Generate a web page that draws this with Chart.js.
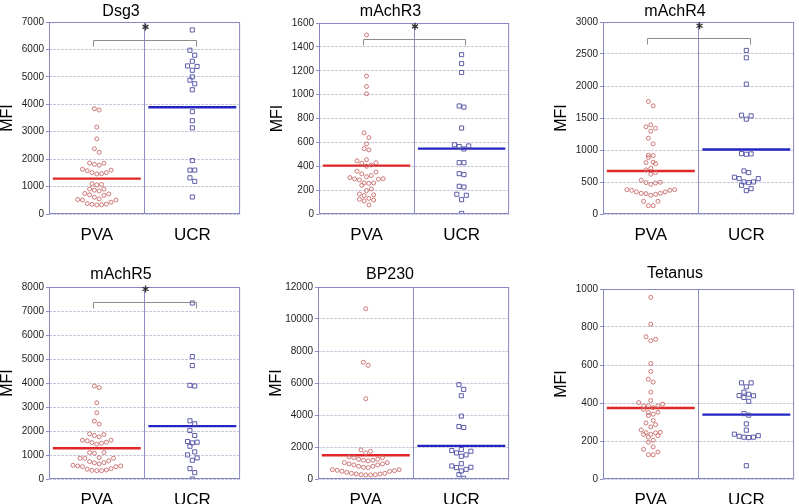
<!DOCTYPE html>
<html>
<head>
<meta charset="utf-8">
<script src="https://cdn.jsdelivr.net/npm/chart.js@4.4.1/dist/chart.umd.min.js"></script>
<style>
  html, body { margin: 0; padding: 0; background: #fff; overflow: hidden; }
  body { width: 799px; height: 504px; position: relative; }
  canvas { position: absolute; }
</style>
</head>
<body>
<script>
// groups on the x axis
var categories = ['PVA', 'UCR'];

// panel titles and y axis ranges
var titles = ['Dsg3', 'mAchR3', 'mAchR4', 'mAchR5', 'BP230', 'Tetanus'];
var yMax = [7000, 1600, 3000, 8000, 12000, 1000];
var yStep = [1000, 200, 500, 1000, 2000, 200];

// MFI values per subject
var dsg3PVA = [3790, 3840, 3170, 2740, 2380, 2250, 1850, 1780, 1810, 1860, 1630, 1580, 1510, 1470, 1460, 1510, 1600,
  1100, 1080, 1060, 910, 870, 840, 910, 700, 680, 550, 610, 730, 750, 510, 430, 380, 340, 330, 350, 360, 510, 530];
var dsg3UCR = [6710, 5970, 5790, 5570, 5380, 5400, 5240, 5000, 4880, 4750, 4530, 3730, 3400, 3140, 1950, 1600, 1600,
  1320, 1190, 620];

var machr3PVA = [1500, 1155, 1068, 1007, 680, 640, 587, 548, 537, 455, 445, 430, 425, 410, 400, 358, 352, 336, 322,
  313, 305, 296, 294, 291, 285, 260, 260, 257, 240, 210, 196, 168, 160, 154, 131, 123, 117, 109, 76];
var machr3UCR = [1335, 1260, 1185, 905, 895, 720, 570, 545, 565, 580, 430, 430, 330, 338, 232, 226, 157, 165, 120, 5];

var machr4PVA = [1758, 1690, 1393, 1341, 1362, 1294, 1184, 1096, 918, 913, 882, 803, 809, 788, 715, 689, 647, 621,
  527, 490, 485, 496, 464, 381, 370, 344, 323, 318, 292, 308, 323, 344, 370, 381, 198, 130, 130, 198];
var machr4UCR = [2556, 2441, 2029, 1534, 1482, 1544, 939, 934, 944, 647, 673, 574, 553, 501, 490, 501, 553, 449, 396, 365];

var machr5PVA = [3875, 3806, 3178, 2760, 2286, 2411, 1882, 1812, 1756, 1854, 1617, 1533, 1491, 1450, 1519, 1589, 1617,
  1101, 1073, 1101, 864, 725, 669, 627, 683, 753, 892, 864, 864, 543, 515, 432, 376, 348, 348, 362, 404, 515, 543, 571];
var machr5UCR = [7332, 5102, 4726, 3903, 3875, 2426, 2300, 2021, 1812, 1533, 1505, 1561, 1366, 1129, 1004, 878, 781,
  432, 265, 0];

var bp230PVA = [10640, 7295, 7107, 5017, 1735, 1630, 1818, 1338, 1233, 1170, 1129, 1170, 1233, 1338, 1380, 1024, 941,
  878, 794, 732, 711, 794, 878, 941, 1024, 585, 522, 481, 355, 313, 272, 251, 251, 272, 313, 355, 418, 481, 543, 585];
var bp230UCR = [5894, 5601, 5204, 3929, 3281, 3219, 1839, 1777, 1735, 1630, 1505, 1421, 961, 815, 732, 606, 711, 502,
  272, 42];

var tetanusPVA = [956, 815, 735, 728, 749, 608, 566, 510, 525, 457, 413, 402, 385, 385, 385, 394, 366, 376, 350, 334,
  341, 351, 308, 295, 286, 274, 258, 244, 235, 228, 234, 243, 246, 221, 204, 193, 169, 156, 142, 128, 127];
var tetanusUCR = [506, 506, 485, 457, 438, 446, 429, 439, 409, 344, 336, 290, 257, 236, 225, 220, 218, 220, 228, 70];

// group medians (horizontal bars)
var medianPVA = [1290, 405, 673, 1282, 1484, 374];
var medianUCR = [3890, 548, 1007, 2202, 2069, 339];

// significance bracket level and star level (null = not significant)
var bracketY = [6360, 1465, 2744, 7360, null, null];
var starY = [6820, 1572, 2942, 7918, null, null];

var pvaSets = [dsg3PVA, machr3PVA, machr4PVA, machr5PVA, bp230PVA, tetanusPVA];
var ucrSets = [dsg3UCR, machr3UCR, machr4UCR, machr5UCR, bp230UCR, tetanusUCR];

// plot area of every panel on the page
var panels = [
  { l: 49, t: 22, r: 242, b: 214, top: 0, titleMid: 12 },
  { l: 319, t: 23, r: 511, b: 214, top: 0, titleMid: 12 },
  { l: 603, t: 22, r: 796, b: 214, top: 0, titleMid: 12 },
  { l: 49, t: 287, r: 242, b: 479, top: 265, titleMid: 275 },
  { l: 318, t: 287, r: 511, b: 479, top: 265, titleMid: 275 },
  { l: 603, t: 289, r: 796, b: 479, top: 265, titleMid: 274 }
];

var FONT = "'Liberation Sans', Arial, sans-serif";

// spread points of a group sideways in rows, like a bee swarm plot
function swarm(values, center, max) {
  var rowH = max * 5.8 / 192;
  var colW = 0.05;
  var sorted = values.slice().sort(function(a, b) { return a - b; });
  var rows = [];
  sorted.forEach(function(v) {
    var row = rows[rows.length - 1];
    if (row && v - row[0] <= rowH) row.push(v);
    else rows.push([v]);
  });
  var pts = [];
  rows.forEach(function(row) {
    var n = row.length;
    var slots = [];
    for (var k = 0; k < n; k++) slots.push(k - (n - 1) / 2);
    slots.sort(function(a, b) { return Math.abs(a) - Math.abs(b) || b - a; });
    row.forEach(function(v, k) {
      pts.push({ x: center + slots[k] * colW, y: v });
    });
  });
  return pts;
}

var panelDeco = {
  id: 'panelDeco',
  afterDraw: function(chart) {
    var i = chart.options.plugins.panelDeco.index;
    var ctx = chart.ctx;
    var a = chart.chartArea;
    var xs = chart.scales.x, ys = chart.scales.y;
    ctx.save();
    ctx.strokeStyle = '#8787c4';
    ctx.lineWidth = 1;
    ctx.strokeRect(a.left + 0.5, a.top + 0.5, a.right - a.left - 1, a.bottom - a.top - 1);
    if (bracketY[i] !== null) {
      var y = Math.round(ys.getPixelForValue(bracketY[i])) + 0.5;
      var x1 = Math.round(xs.getPixelForValue(0.46)) + 0.5;
      var x2 = Math.round(xs.getPixelForValue(1.54)) + 0.5;
      ctx.strokeStyle = '#8c8c8c';
      ctx.beginPath();
      ctx.moveTo(x1, y + 6);
      ctx.lineTo(x1, y);
      ctx.lineTo(x2, y);
      ctx.lineTo(x2, y + 6);
      ctx.stroke();
      var sx = xs.getPixelForValue(1) + 1;
      var sy = ys.getPixelForValue(starY[i]);
      ctx.strokeStyle = '#333';
      ctx.lineWidth = 1.3;
      ctx.beginPath();
      for (var k = 0; k < 3; k++) {
        var ang = Math.PI / 2 + k * Math.PI / 3;
        ctx.moveTo(sx - Math.cos(ang) * 3.5, sy - Math.sin(ang) * 3.5);
        ctx.lineTo(sx + Math.cos(ang) * 3.5, sy + Math.sin(ang) * 3.5);
      }
      ctx.stroke();
    }
    ctx.restore();
  }
};

panels.forEach(function(p, i) {
  var canvas = document.createElement('canvas');
  var left = p.l - 49;
  canvas.width = p.r + 3 - left;
  canvas.height = p.b - p.top + 32;
  canvas.style.left = left + 'px';
  canvas.style.top = p.top + 'px';
  document.body.appendChild(canvas);

  var padTop = p.titleMid - 8 - p.top;
  var padBottom = p.t - p.top - 16 - padTop;

  new Chart(canvas.getContext('2d'), {
    type: 'scatter',
    data: {
      datasets: [
        {
          data: swarm(pvaSets[i], 0.5, yMax[i]),
          pointStyle: 'circle',
          pointRadius: 2,
          borderWidth: 0.9,
          borderColor: '#c96a6a',
          backgroundColor: 'rgba(0,0,0,0)'
        },
        {
          data: swarm(ucrSets[i], 1.5, yMax[i]),
          pointStyle: 'rect',
          pointRadius: 2.9,
          borderWidth: 0.9,
          borderColor: '#4d4da3',
          backgroundColor: 'rgba(0,0,0,0)'
        },
        {
          type: 'line',
          data: [{ x: 0.04, y: medianPVA[i] }, { x: 0.96, y: medianPVA[i] }],
          borderColor: '#e02626',
          borderWidth: 2.4,
          pointRadius: 0
        },
        {
          type: 'line',
          data: [{ x: 1.04, y: medianUCR[i] }, { x: 1.96, y: medianUCR[i] }],
          borderColor: '#2424c4',
          borderWidth: 2.4,
          pointRadius: 0
        }
      ]
    },
    options: {
      responsive: false,
      animation: false,
      devicePixelRatio: 1,
      layout: { padding: { left: 0, right: 3, top: 0, bottom: 0 } },
      plugins: {
        legend: { display: false },
        tooltip: { enabled: false },
        title: {
          display: true,
          text: titles[i],
          color: '#000',
          font: { family: FONT, size: 16, weight: 'normal', lineHeight: 1 },
          padding: { top: padTop, bottom: padBottom }
        },
        panelDeco: { index: i }
      },
      scales: {
        x: {
          type: 'linear',
          min: 0,
          max: 2,
          afterBuildTicks: function(scale) {
            scale.ticks = [{ value: 0.5 }, { value: 1 }, { value: 1.5 }];
          },
          afterFit: function(scale) { scale.height = 32; },
          ticks: {
            autoSkip: false,
            maxRotation: 0,
            padding: 11,
            color: '#000',
            font: { family: FONT, size: 17 },
            callback: function(v) {
              if (v === 0.5) return categories[0];
              if (v === 1.5) return categories[1];
              return '';
            }
          },
          grid: {
            drawTicks: false,
            lineWidth: 1,
            color: function(c) {
              return c.tick && c.tick.value === 1 ? '#8c8cc6' : 'rgba(0,0,0,0)';
            }
          },
          border: { display: false }
        },
        y: {
          min: 0,
          max: yMax[i],
          afterFit: function(scale) { scale.width = 49; },
          ticks: {
            stepSize: yStep[i],
            padding: 2,
            color: '#222',
            font: { family: FONT, size: 10 },
            callback: function(v) { return v; }
          },
          grid: {
            color: 'rgba(170,170,200,0.65)',
            tickLength: 3,
            tickColor: '#8c8cc6',
            tickBorderDash: []
          },
          border: { display: false, dash: [3, 1] },
          title: {
            display: true,
            text: 'MFI',
            color: '#000',
            padding: { top: 0, bottom: 0 },
            font: { family: FONT, size: 16, lineHeight: 1 }
          }
        }
      }
    },
    plugins: [panelDeco]
  });
});
</script>
</body>
</html>
